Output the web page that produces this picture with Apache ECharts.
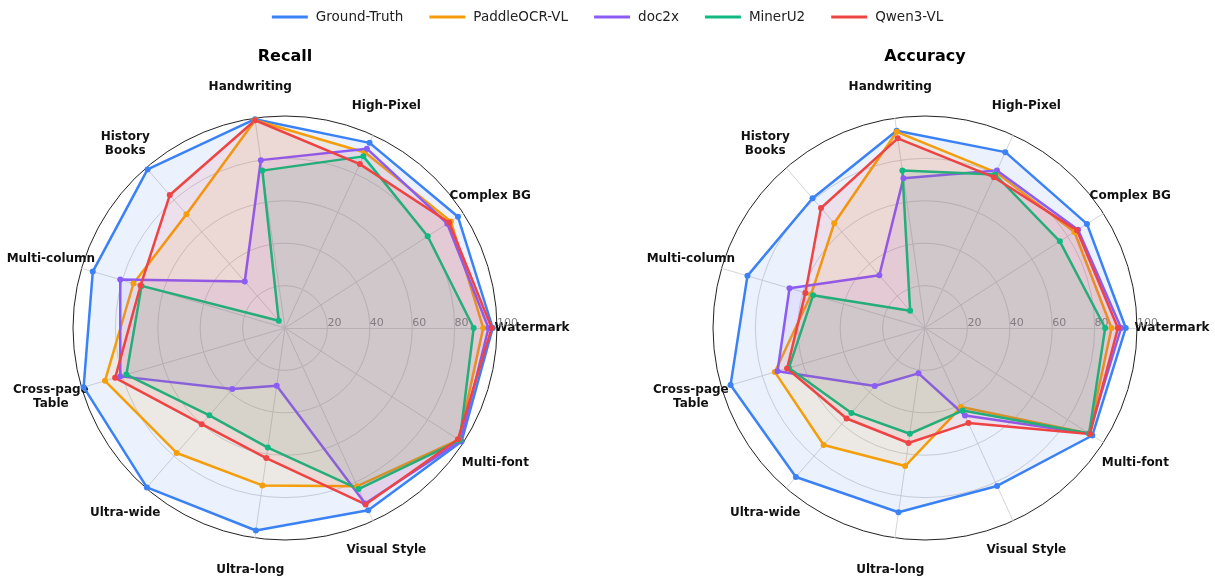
<!DOCTYPE html>
<html><head><meta charset="utf-8">
<script src="https://cdn.jsdelivr.net/npm/echarts@6/dist/echarts.min.js"></script>
<style>html,body{margin:0;padding:0;background:#fff}#c{width:1215px;height:581px}</style>
</head><body><div id="c"></div>
<script>
// Indicator order: counter-clockwise starting from the right (0°)
const categories = ['Watermark', 'Complex BG', 'High-Pixel', 'Handwriting', 'History\nBooks', 'Multi-column', 'Cross-page\nTable', 'Ultra-wide', 'Ultra-long', 'Visual Style', 'Multi-font'];
const modelNames = ['Ground-Truth', 'PaddleOCR-VL', 'doc2x', 'MinerU2', 'Qwen3-VL'];
const modelColors = ['#3b82f6', '#f59e0b', '#8b5cf6', '#10b981', '#ef4444'];
const tickLabels = ['', '20', '40', '60', '80', '100'];
const panelTitles = ['Recall', 'Accuracy'];

// Recall
const recallGroundTruth = [98, 97, 96, 99.5, 99, 94.5, 99, 99.5, 96.5, 94.5, 99];
const recallPaddleOCR   = [93.5, 93, 91, 99, 71, 74.5, 88.5, 78, 75, 82, 97.5];
const recallDoc2x       = [96, 91, 93, 80, 29, 81, 81, 38, 27.5, 91, 98.5];
const recallMinerU2     = [89, 80, 89, 75, 4.5, 70.5, 78, 54.5, 57, 83.5, 98];
const recallQwen3       = [97.5, 92, 85, 99, 83, 71, 83.5, 60, 62, 91.5, 97];

// Accuracy
const accGroundTruth = [94.7, 90.8, 91.2, 94, 81, 87.3, 95.6, 93, 87.8, 81.9, 93.8];
const accPaddleOCR   = [88, 83.8, 80.7, 93.5, 65.4, 56, 73.8, 73, 65.8, 41, 92];
const accDoc2x       = [92.5, 85.8, 81.7, 71.4, 32.9, 66.6, 72.5, 36.2, 21.6, 45.4, 92];
const accMinerU2     = [85, 75.6, 79.6, 75, 10.7, 55, 66.9, 53, 50.4, 42.8, 92];
const accQwen3       = [91, 85.2, 78.2, 90.4, 74.9, 58.8, 67.8, 56.5, 54.8, 49.3, 92.5];

const recallSets = [recallGroundTruth, recallPaddleOCR, recallDoc2x, recallMinerU2, recallQwen3];
const accSets = [accGroundTruth, accPaddleOCR, accDoc2x, accMinerU2, accQwen3];

const FONT = 'DejaVu Sans';
const centers = [[285, 328], [925, 328]];
const R = 212;

function indicators() {
  return categories.map((name, i) => {
    const ind = { name: name, min: 0, max: 100 };
    if (name === 'Multi-font') ind.nameGap = 38;
    if (i === 0) {
      ind.nameGap = 35;
      ind.nameMoveOverlap = false;
      ind.axisLabel = {
        show: true, color: '#808080', fontSize: 11, fontFamily: FONT,
        align: 'left', verticalAlign: 'middle', margin: 5,
        formatter: function (v) { return tickLabels[Math.round(v / 20)] ?? String(v); }
      };
    }
    return ind;
  });
}

function radar(idx) {
  return {
    center: centers[idx], radius: R, startAngle: 0, shape: 'circle', splitNumber: 5,
    indicator: indicators(),
    nameGap: 32,
    axisName: { color: '#111', fontFamily: FONT, fontWeight: 'bold', fontSize: 12, align: 'center', verticalAlign: 'middle', lineHeight: 14 },
    axisLine: { lineStyle: { color: '#d6d6d6', width: 1 } },
    splitLine: { lineStyle: { color: ['#d6d6d6', '#d6d6d6', '#d6d6d6', '#d6d6d6', '#d6d6d6', '#222'], width: 1 } },
    splitArea: { show: false },
    axisTick: { show: false },
    axisLabel: { show: false }
  };
}

function series(idx, sets) {
  return {
    type: 'radar', radarIndex: idx,
    symbol: 'circle', symbolSize: 6,
    data: sets.map((vals, k) => ({
      name: modelNames[k], value: vals,
      itemStyle: { color: modelColors[k] },
      lineStyle: { color: modelColors[k], width: 2.5 },
      areaStyle: { color: modelColors[k], opacity: 0.1 }
    }))
  };
}

const chart = echarts.init(document.getElementById('c'), null, { renderer: 'canvas' });
chart.setOption({
  backgroundColor: '#fff',
  animation: false,
  title: panelTitles.map((t, i) => ({
    text: t, left: centers[i][0], top: 49, textAlign: 'center', padding: 0,
    textStyle: { fontFamily: FONT, fontWeight: 'bold', fontSize: 16, color: '#000' }
  })),
  legend: {
    top: 5, left: 'center', icon: 'rect', itemWidth: 36, itemHeight: 3, itemGap: 26,
    data: modelNames,
    textStyle: { fontFamily: FONT, fontSize: 13.5, color: '#222', padding: [0, 0, 0, 3] }
  },
  radar: [radar(0), radar(1)],
  series: [series(0, recallSets), series(1, accSets)]
});
</script></body></html>
